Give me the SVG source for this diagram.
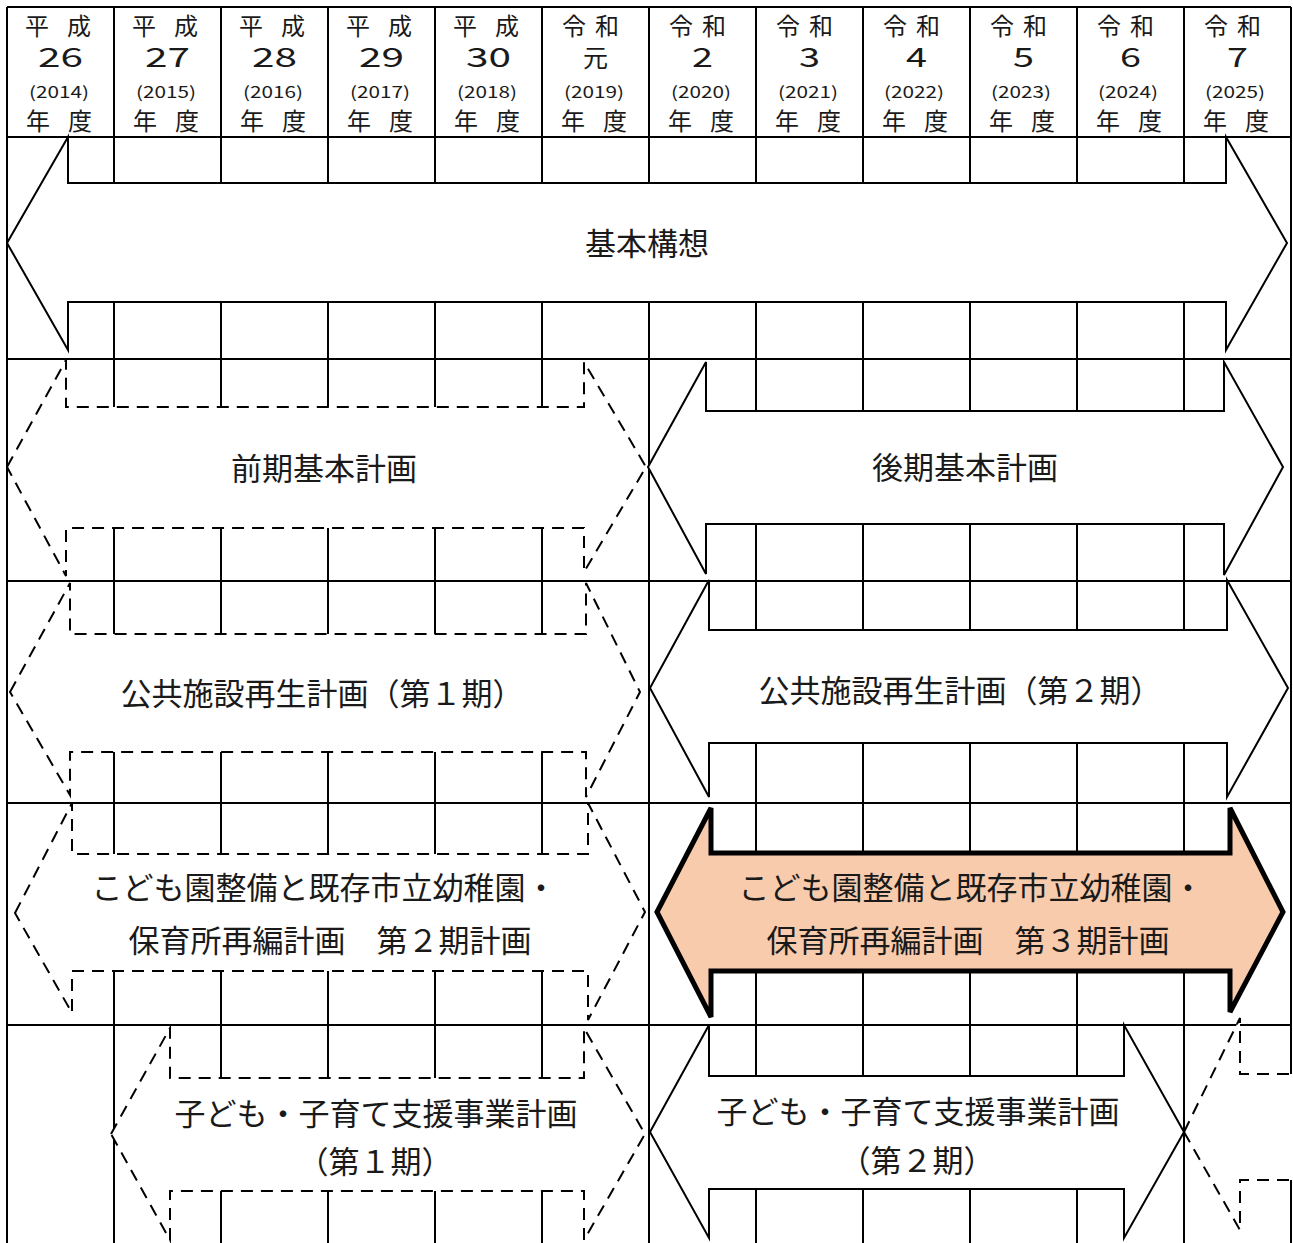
<svg xmlns="http://www.w3.org/2000/svg" width="1293" height="1243" viewBox="0 0 1293 1243">
<style>
.g{stroke:#000;stroke-width:2;fill:none}
.solid{fill:#fff;stroke:#000;stroke-width:2;stroke-linejoin:miter}
.dash{fill:#fff;stroke:#000;stroke-width:2;stroke-dasharray:12 8}
.hot{fill:#F8CBAD;stroke:#000;stroke-width:5;stroke-linejoin:miter}
text{font-family:"Noto Sans CJK JP","Noto Sans",sans-serif;fill:#1a1a1a}
.era{font-size:24px}
.num{font-size:27px;text-anchor:middle}
.yr{font-size:16px;text-anchor:middle}
.lb{font-size:31px;text-anchor:middle}
</style>
<rect width="1293" height="1243" fill="#fff"/>
<g id="grid" class="g">
<path d="M7,7H1291M7,137H1291M7,359H1291M7,581H1291M7,803H1291M7,1025H1291"/>
<path d="M7,7V1250M114,7V1250M221,7V1250M328,7V1250M435,7V1250M542,7V1250M649,7V1250M756,7V1250M863,7V1250M970,7V1250M1077,7V1250M1184,7V1250M1291,7V1250"/>
</g>
<g id="header">
<text class="era" y="35"><tspan x="25">平</tspan> <tspan x="67">成</tspan></text>
<text class="era" y="35"><tspan x="132">平</tspan> <tspan x="174">成</tspan></text>
<text class="era" y="35"><tspan x="239">平</tspan> <tspan x="281">成</tspan></text>
<text class="era" y="35"><tspan x="346">平</tspan> <tspan x="388">成</tspan></text>
<text class="era" y="35"><tspan x="453">平</tspan> <tspan x="495">成</tspan></text>
<text class="era" y="35"><tspan x="562">令</tspan> <tspan x="595">和</tspan></text>
<text class="era" y="35"><tspan x="669">令</tspan> <tspan x="702">和</tspan></text>
<text class="era" y="35"><tspan x="776">令</tspan> <tspan x="809">和</tspan></text>
<text class="era" y="35"><tspan x="883">令</tspan> <tspan x="916">和</tspan></text>
<text class="era" y="35"><tspan x="990">令</tspan> <tspan x="1023">和</tspan></text>
<text class="era" y="35"><tspan x="1097">令</tspan> <tspan x="1130">和</tspan></text>
<text class="era" y="35"><tspan x="1204">令</tspan> <tspan x="1237">和</tspan></text>
<text class="num" x="60.5" y="67" textLength="45" lengthAdjust="spacingAndGlyphs">26</text>
<text class="num" x="167.5" y="67" textLength="45" lengthAdjust="spacingAndGlyphs">27</text>
<text class="num" x="274.5" y="67" textLength="45" lengthAdjust="spacingAndGlyphs">28</text>
<text class="num" x="381.5" y="67" textLength="45" lengthAdjust="spacingAndGlyphs">29</text>
<text class="num" x="488.5" y="67" textLength="45" lengthAdjust="spacingAndGlyphs">30</text>
<text class="num" x="595.5" y="67" style="font-size:25px">元</text>
<text class="num" x="702.5" y="67" textLength="21" lengthAdjust="spacingAndGlyphs">2</text>
<text class="num" x="809.5" y="67" textLength="21" lengthAdjust="spacingAndGlyphs">3</text>
<text class="num" x="916.5" y="67" textLength="21" lengthAdjust="spacingAndGlyphs">4</text>
<text class="num" x="1023.5" y="67" textLength="21" lengthAdjust="spacingAndGlyphs">5</text>
<text class="num" x="1130.5" y="67" textLength="21" lengthAdjust="spacingAndGlyphs">6</text>
<text class="num" x="1237.5" y="67" textLength="21" lengthAdjust="spacingAndGlyphs">7</text>
<text class="yr" x="59" y="98" textLength="60" lengthAdjust="spacingAndGlyphs">(2014)</text>
<text class="yr" x="166" y="98" textLength="60" lengthAdjust="spacingAndGlyphs">(2015)</text>
<text class="yr" x="273" y="98" textLength="60" lengthAdjust="spacingAndGlyphs">(2016)</text>
<text class="yr" x="380" y="98" textLength="60" lengthAdjust="spacingAndGlyphs">(2017)</text>
<text class="yr" x="487" y="98" textLength="60" lengthAdjust="spacingAndGlyphs">(2018)</text>
<text class="yr" x="594" y="98" textLength="60" lengthAdjust="spacingAndGlyphs">(2019)</text>
<text class="yr" x="701" y="98" textLength="60" lengthAdjust="spacingAndGlyphs">(2020)</text>
<text class="yr" x="808" y="98" textLength="60" lengthAdjust="spacingAndGlyphs">(2021)</text>
<text class="yr" x="914" y="98" textLength="60" lengthAdjust="spacingAndGlyphs">(2022)</text>
<text class="yr" x="1021" y="98" textLength="60" lengthAdjust="spacingAndGlyphs">(2023)</text>
<text class="yr" x="1128" y="98" textLength="60" lengthAdjust="spacingAndGlyphs">(2024)</text>
<text class="yr" x="1235" y="98" textLength="60" lengthAdjust="spacingAndGlyphs">(2025)</text>
<text class="era" y="130"><tspan x="26">年</tspan> <tspan x="68">度</tspan></text>
<text class="era" y="130"><tspan x="133">年</tspan> <tspan x="175">度</tspan></text>
<text class="era" y="130"><tspan x="240">年</tspan> <tspan x="282">度</tspan></text>
<text class="era" y="130"><tspan x="347">年</tspan> <tspan x="389">度</tspan></text>
<text class="era" y="130"><tspan x="454">年</tspan> <tspan x="496">度</tspan></text>
<text class="era" y="130"><tspan x="561">年</tspan> <tspan x="603">度</tspan></text>
<text class="era" y="130"><tspan x="668">年</tspan> <tspan x="710">度</tspan></text>
<text class="era" y="130"><tspan x="775">年</tspan> <tspan x="817">度</tspan></text>
<text class="era" y="130"><tspan x="882">年</tspan> <tspan x="924">度</tspan></text>
<text class="era" y="130"><tspan x="989">年</tspan> <tspan x="1031">度</tspan></text>
<text class="era" y="130"><tspan x="1096">年</tspan> <tspan x="1138">度</tspan></text>
<text class="era" y="130"><tspan x="1203">年</tspan> <tspan x="1245">度</tspan></text>
</g>
<g id="kihon-kousou">
<polygon class="solid" points="7,243 68,137 68,183 1226,183 1226,137 1287,243 1226,350 1226,302 68,302 68,350"/>
<text class="lb" x="647" y="255">基本構想</text>
</g>
<g id="zenki">
<polygon class="dash" points="7,467 66,360 66,407 584,407 584,362 646,467 584,572 584,528 66,528 66,576"/>
<text class="lb" x="324" y="480">前期基本計画</text>
</g>
<g id="kouki">
<polygon class="solid" points="648,467 706,362 706,411 1224,411 1224,362 1283,467 1224,575 1224,524 706,524 706,574"/>
<text class="lb" x="965" y="479">後期基本計画</text>
</g>
<g id="koukyou-1">
<polygon class="dash" points="10,692 70,583 70,634 586,634 586,583 640,692 586,797 586,752 70,752 70,795"/>
<text class="lb" x="322" y="705">公共施設再生計画（第１期）</text>
</g>
<g id="koukyou-2">
<polygon class="solid" points="650,688 709,580 709,630 1227,630 1227,580 1288,688 1227,797 1227,743 709,743 709,797"/>
<text class="lb" x="960" y="702">公共施設再生計画（第２期）</text>
</g>
<g id="kodomoen-2">
<polygon class="dash" points="15,913 72,803 72,854 588,854 588,803 645,912 588,1020 588,971 72,971 72,1013"/>
<text class="lb" x="324" y="899">こども園整備と既存市立幼稚園・</text>
<text class="lb" x="330" y="952">保育所再編計画　第２期計画</text>
</g>
<g id="kodomoen-3">
<polygon class="hot" points="657,912 711,808 711,853 1230,853 1230,808 1283,912 1230,1012 1230,971 711,971 711,1017"/>
<text class="lb" x="971" y="899">こども園整備と既存市立幼稚園・</text>
<text class="lb" x="968" y="952">保育所再編計画　第３期計画</text>
</g>
<g id="kosodate-1">
<polygon class="dash" points="111,1134 170,1028 170,1078 584,1078 584,1028 645,1134 584,1240 584,1191 170,1191 170,1240"/>
<text class="lb" x="376" y="1125">子ども・子育て支援事業計画</text>
<text class="lb" x="375" y="1173">（第１期）</text>
</g>
<g id="kosodate-2">
<polygon class="solid" points="650,1132 709,1025 709,1076 1124,1076 1124,1025 1184,1132 1124,1238 1124,1189 709,1189 709,1238"/>
<text class="lb" x="918" y="1123">子ども・子育て支援事業計画</text>
<text class="lb" x="917" y="1172">（第２期）</text>
</g>
<g id="kosodate-3">
<polygon class="dash" points="1184,1132 1240,1018 1240,1074 1400,1074 1400,1180 1240,1180 1240,1230"/>
</g>
<g id="connectors"/>
</svg>
